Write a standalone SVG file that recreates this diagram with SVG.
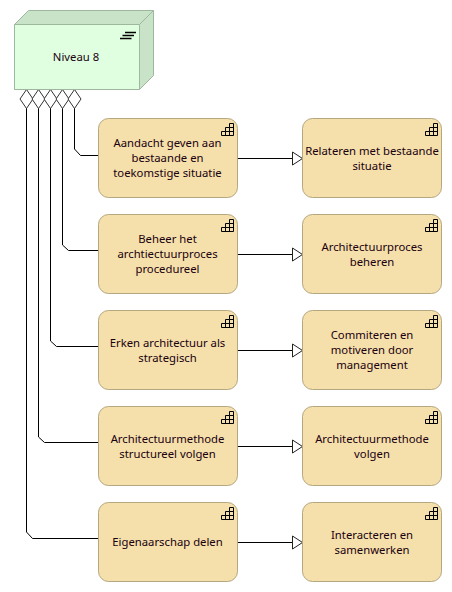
<svg xmlns="http://www.w3.org/2000/svg" width="452" height="592" viewBox="0 0 452 592">
<style>
text{font-family:"Noto Sans","Open Sans","DejaVu Sans",sans-serif;font-size:11.3px;fill:#1a0010;text-anchor:middle}
.c{fill:none;stroke:#000;stroke-width:1}
.d{fill:#fff;stroke:#333;stroke-width:1}
.t{fill:#fff;stroke:#222;stroke-width:1}
.n{fill:#f5dfaa;stroke:#b5a77f;stroke-width:1}
.i{fill:none;stroke:#000;stroke-width:1}
</style>
<defs>
<path id="ic" class="i" d="M0 12V8H4V4H8V0H12V12ZM4 8H12M8 4H12M4 8V12M8 4V12"/>
</defs>
<g id="connectors">
<path class="c" d="M74.500 108V149L80.500 155.500H98"/>
<path class="c" d="M62.500 108V245L68.500 250.500H98"/>
<path class="c" d="M50.500 108V341L56.500 346.500H98"/>
<path class="c" d="M38.500 108V437L44.500 442.500H98"/>
<path class="c" d="M26.500 108V532L32.500 538.500H98"/>
<path class="c" d="M238 158.500H292"/>
<path class="c" d="M238 254.500H292"/>
<path class="c" d="M238 350.500H292"/>
<path class="c" d="M238 446.500H292"/>
<path class="c" d="M238 542.500H292"/>
<path class="d" d="M26.500 89.500L33 99L26.500 108.500L20 99Z"/>
<path class="d" d="M38.500 89.500L45 99L38.500 108.500L32 99Z"/>
<path class="d" d="M50.500 89.500L57 99L50.500 108.500L44 99Z"/>
<path class="d" d="M62.500 89.500L69 99L62.500 108.500L56 99Z"/>
<path class="d" d="M74.500 89.500L81 99L74.500 108.500L68 99Z"/>
<path class="t" d="M292.500 152L302.500 158.500L292.500 165Z"/>
<path class="t" d="M292.500 248L302.500 254.500L292.500 261Z"/>
<path class="t" d="M292.500 344L302.500 350.500L292.500 357Z"/>
<path class="t" d="M292.500 440L302.500 446.500L292.500 453Z"/>
<path class="t" d="M292.500 536L302.500 542.500L292.500 549Z"/>
</g>
<g id="niveau8">
<path d="M14.500 24.500L28.500 10.500H153.500V75.500L139.500 89.500H14.500Z" fill="#c8e3c8" stroke="#9db89d"/>
<path d="M14.500 24.500H139.500V89.500H14.500ZM139.500 24.500L153.500 10.500" fill="#e0ffe0" stroke="#9db89d"/>
<path d="M125 32.500H136M122.500 35.500H134M120 38.500H131.500" stroke="#000" stroke-width="1.600" fill="none"/>
<text x="76" y="61">Niveau 8</text>
</g>
<g id="n1"><rect class="n" x="98.500" y="118.500" width="139" height="79" rx="10"/><use href="#ic" x="221.500" y="123.500"/><text x="167.500" y="147">Aandacht geven aan</text><text x="167.500" y="162">bestaande en</text><text x="167.500" y="177">toekomstige situatie</text></g>
<g id="n2"><rect class="n" x="302.500" y="118.500" width="139" height="79" rx="10"/><use href="#ic" x="425.500" y="123.500"/><text x="372" y="155">Relateren met bestaande</text><text x="372" y="170">situatie</text></g>
<g id="n3"><rect class="n" x="98.500" y="214.500" width="139" height="79" rx="10"/><use href="#ic" x="221.500" y="219.500"/><text x="167.500" y="243">Beheer het</text><text x="167.500" y="258">archtiectuurproces</text><text x="167.500" y="273">procedureel</text></g>
<g id="n4"><rect class="n" x="302.500" y="214.500" width="139" height="79" rx="10"/><use href="#ic" x="425.500" y="219.500"/><text x="372" y="251">Architectuurproces</text><text x="372" y="266">beheren</text></g>
<g id="n5"><rect class="n" x="98.500" y="310.500" width="139" height="79" rx="10"/><use href="#ic" x="221.500" y="315.500"/><text x="167.500" y="347">Erken architectuur als</text><text x="167.500" y="362">strategisch</text></g>
<g id="n6"><rect class="n" x="302.500" y="310.500" width="139" height="79" rx="10"/><use href="#ic" x="425.500" y="315.500"/><text x="372" y="339">Commiteren en</text><text x="372" y="354">motiveren door</text><text x="372" y="369">management</text></g>
<g id="n7"><rect class="n" x="98.500" y="406.500" width="139" height="79" rx="10"/><use href="#ic" x="221.500" y="411.500"/><text x="167.500" y="443">Architectuurmethode</text><text x="167.500" y="458">structureel volgen</text></g>
<g id="n8"><rect class="n" x="302.500" y="406.500" width="139" height="79" rx="10"/><use href="#ic" x="425.500" y="411.500"/><text x="372" y="443">Architectuurmethode</text><text x="372" y="458">volgen</text></g>
<g id="n9"><rect class="n" x="98.500" y="502.500" width="139" height="79" rx="10"/><use href="#ic" x="221.500" y="507.500"/><text x="167.500" y="546">Eigenaarschap delen</text></g>
<g id="n10"><rect class="n" x="302.500" y="502.500" width="139" height="79" rx="10"/><use href="#ic" x="425.500" y="507.500"/><text x="372" y="539">Interacteren en</text><text x="372" y="554">samenwerken</text></g>
</svg>
